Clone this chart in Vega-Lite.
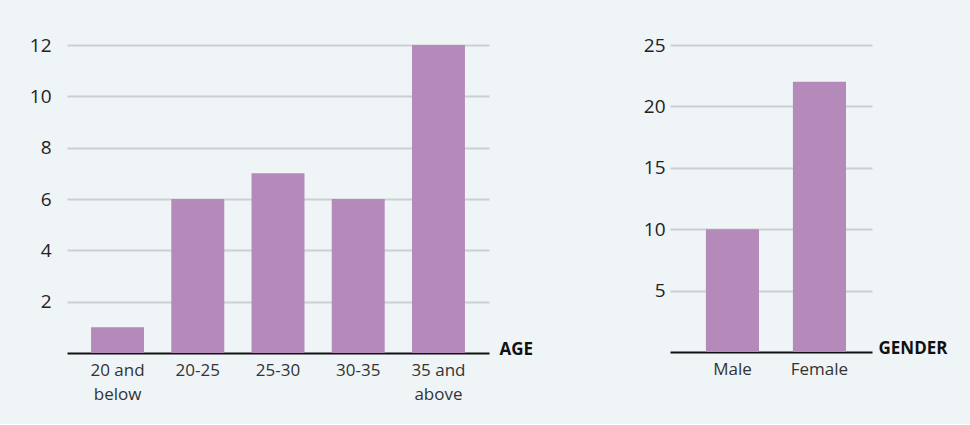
{
  "$schema": "https://vega.github.io/schema/vega-lite/v6.json",
  "background": "#eff4f7",
  "padding": {"left": 29, "top": 36, "right": 23, "bottom": 22},
  "bounds": "flush",
  "spacing": 181,
  "resolve": {"scale": {"x": "independent", "y": "independent"}},
  "config": {
    "view": {"stroke": null},
    "font": "Open Sans",
    "axis": {"labelFont": "Open Sans", "titleFont": "Open Sans"}
  },
  "hconcat": [
    {
      "width": 422,
      "height": 308,
      "data": {"values": [
        {"age": "20 and below", "count": 1},
        {"age": "20-25", "count": 6},
        {"age": "25-30", "count": 7},
        {"age": "30-35", "count": 6},
        {"age": "35 and above", "count": 12}
      ]},
      "mark": {"type": "bar", "color": "#b38aba"},
      "encoding": {
        "x": {
          "field": "age", "type": "nominal", "sort": null,
          "scale": {"paddingInner": 0.34, "paddingOuter": 0.3},
          "axis": {
            "title": "AGE", "titleX": 432, "titleY": 1, "titleAlign": "left", "titleBaseline": "alphabetic",
            "titleAnchor": null, "titleAngle": 0,
            "titleFontSize": 17, "titleFontWeight": "bold", "titleColor": "#111",
            "labelAngle": 0, "labelFontSize": 17, "labelColor": "#333", "labelPadding": 9,
            "labelLineHeight": 24, "labelBaseline": "top",
            "labelExpr": "datum.label == '20 and below' ? ['20 and', 'below'] : datum.label == '35 and above' ? ['35 and', 'above'] : datum.label",
            "ticks": false, "domainColor": "#111", "domainWidth": 2, "grid": false
          }
        },
        "y": {
          "field": "count", "type": "quantitative",
          "scale": {"domain": [0, 12], "nice": false},
          "axis": {
            "title": null, "values": [2, 4, 6, 8, 10, 12], "domain": false, "ticks": false,
            "labelPadding": 16, "labelFontSize": 19, "labelColor": "#222",
            "gridColor": "#cbd0d4", "gridWidth": 2
          }
        }
      }
    },
    {
      "width": 202,
      "height": 307,
      "data": {"values": [
        {"gender": "Male", "count": 10},
        {"gender": "Female", "count": 22}
      ]},
      "mark": {"type": "bar", "color": "#b38aba"},
      "encoding": {
        "x": {
          "field": "gender", "type": "nominal", "sort": null,
          "scale": {"paddingInner": 0.39, "paddingOuter": 0.356, "align": 0.58},
          "axis": {
            "title": "GENDER", "titleX": 208, "titleY": 1, "titleAlign": "left", "titleBaseline": "alphabetic",
            "titleAnchor": null, "titleAngle": 0,
            "titleFontSize": 17, "titleFontWeight": "bold", "titleColor": "#111",
            "labelAngle": 0, "labelFontSize": 17, "labelColor": "#333", "labelPadding": 9,
            "labelBaseline": "top",
            "ticks": false, "domainColor": "#111", "domainWidth": 2, "grid": false
          }
        },
        "y": {
          "field": "count", "type": "quantitative",
          "scale": {"domain": [0, 25], "nice": false},
          "axis": {
            "title": null, "values": [5, 10, 15, 20, 25], "domain": false, "ticks": false,
            "labelPadding": 5, "labelFontSize": 19, "labelColor": "#222",
            "gridColor": "#cbd0d4", "gridWidth": 2
          }
        }
      }
    }
  ]
}
